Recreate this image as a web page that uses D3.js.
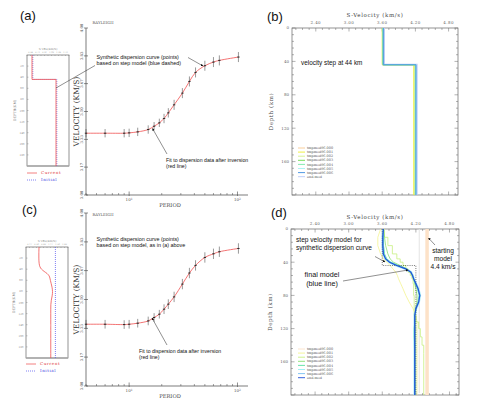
<!DOCTYPE html>
<html><head><meta charset="utf-8">
<script src="https://cdn.jsdelivr.net/npm/d3@7"></script>
<style>body{margin:0;background:#fff}svg{display:block}</style>
</head><body><svg id="c" width="500" height="409"></svg>
<script>
// ---------------- DATA ----------------
const periods = [4, 6, 9, 10, 12, 15, 17, 19, 21, 23, 26, 31, 36, 41, 50, 60, 68, 102];
const velA    = [3.370, 3.370, 3.370, 3.372, 3.378, 3.392, 3.412, 3.432, 3.458, 3.492, 3.540, 3.610, 3.680, 3.734, 3.774, 3.796, 3.806, 3.826];
const velC    = [3.357, 3.357, 3.355, 3.357, 3.363, 3.376, 3.396, 3.415, 3.444, 3.473, 3.515, 3.589, 3.653, 3.697, 3.743, 3.764, 3.776, 3.795];
const errHalf = [0.025, 0.025, 0.025, 0.025, 0.025, 0.025, 0.025, 0.025, 0.028, 0.028, 0.03, 0.03, 0.03, 0.03, 0.03, 0.03, 0.03, 0.03];
const velTicks = [3.00, 3.167, 3.333, 3.50, 3.667, 3.833, 4.00];
const velTickLabelsA = ["3.00","3.17","3.33","3.50","3.67","3.83","4.00"];
const velTickLabelsC = ["3.00","3.17","3.33","3.50","3.67","3.83","4.00"];
const periodMajor = [10, 100];
const periodMinor = [4,5,6,7,8,9,20,30,40,50,60,70,80,90];

// step model (layer top depth, velocity)
const stepDepth = [0, 44, 200];
const stepVel   = [3.60, 4.20, 4.20];
// inverted final model
const finalDepth = [0,10,20,30,36,40,44,48,52,56,60,66,72,80,88,96,104,112,120,130,140,150,200];
const finalVel   = [3.62,3.61,3.61,3.62,3.66,3.73,3.86,4.02,4.11,4.14,4.16,4.20,4.24,4.27,4.25,4.20,4.18,4.18,4.18,4.18,4.18,4.18,4.18];
const startVel = 4.40;

const insetDepthTicks = [20,40,60,80,100,120,140,160,180];
const insetDepthLabels = ["20","40","60","80","100","120","140","160","180"];

// panel (b): iteration models (all step models)
const modelNames = ["tmpmod96.000","tmpmod96.001","tmpmod96.002","tmpmod96.003","tmpmod96.004","tmpmod96.005","tmpmod96.006","end.mod"];
const bUpperVel = [3.61, 3.60, 3.61, 3.62, 3.61, 3.62, 3.62, 3.63];
const bLowerVel = [4.20, 4.17, 4.19, 4.20, 4.20, 4.21, 4.21, 4.22];
const bStepDepth = [44, 44, 44, 44, 44, 44, 44, 44];

// panel (d): iteration models on the finalDepth grid
const dModelVel = [
  [4.40,4.40,4.40,4.40,4.40,4.40,4.40,4.40,4.40,4.40,4.40,4.40,4.40,4.40,4.40,4.40,4.40,4.40,4.40,4.40,4.40,4.40,4.40],
  [3.57,3.52,3.52,3.57,3.62,3.68,3.74,3.79,3.84,3.87,3.89,3.93,3.97,4.02,4.08,4.15,4.20,4.22,4.22,4.22,4.22,4.22,4.22],
  [3.64,3.70,3.78,3.86,3.92,3.97,4.02,4.06,4.10,4.13,4.15,4.16,4.16,4.17,4.17,4.17,4.20,4.25,4.28,4.31,4.34,4.34,4.34],
  [3.62,3.64,3.66,3.70,3.74,3.80,3.92,4.04,4.10,4.14,4.16,4.18,4.20,4.22,4.22,4.20,4.19,4.19,4.19,4.19,4.19,4.19,4.19],
  [3.62,3.62,3.62,3.64,3.68,3.75,3.88,4.03,4.11,4.14,4.16,4.19,4.23,4.26,4.24,4.20,4.18,4.18,4.17,4.17,4.18,4.18,4.18],
  [3.62,3.61,3.61,3.62,3.66,3.73,3.86,4.02,4.11,4.14,4.16,4.20,4.24,4.27,4.25,4.20,4.18,4.18,4.17,4.17,4.17,4.18,4.18],
  [3.62,3.61,3.61,3.62,3.66,3.73,3.86,4.02,4.11,4.14,4.16,4.20,4.24,4.27,4.25,4.20,4.18,4.18,4.18,4.18,4.18,4.18,4.18],
  [3.62,3.61,3.61,3.62,3.66,3.73,3.86,4.02,4.11,4.14,4.16,4.20,4.24,4.27,4.25,4.20,4.18,4.18,4.18,4.18,4.18,4.18,4.18]
];
const sVelTicks = [2.40, 3.00, 3.60, 4.20, 4.80];
const sVelTickLabels = ["2.40","3.00","3.60","4.20","4.80"];
const depthTicks = [0, 40, 80, 120, 160];

// ---------------- STYLE ----------------
const bColors = ["#f8c890","#eeee30","#d4f088","#68d848","#78e8a8","#a8f0f0","#3c8ce0","#b8c8f8"];
const dColors = ["#fde2c8","#f4f490","#c8f080","#88e070","#58e0a0","#98eef0","#78c0f0","#2050d8"];
const SER = "'DejaVu Serif','Liberation Serif',serif";
const SANS = "'Liberation Sans','DejaVu Sans',Arial,sans-serif";

const svg = d3.select("#c");
svg.append("rect").attr("width",500).attr("height",409).attr("fill","#fff");

[["(a)",20,20],["(b)",267,21],["(c)",22,214],["(d)",271,217]].forEach(([t,x,y])=>{
  svg.append("text").attr("x",x).attr("y",y).attr("font-family",SANS).attr("font-size",13).attr("fill","#111").text(t);
});

// ---------------- dispersion panels ----------------
function dispersionPanel(yTop, yBot, vel, tickLabels, titleY, periodLabelY) {
  const g = svg.append("g");
  const x = d3.scaleLog().domain([4,125]).range([86,248]);
  const y = d3.scaleLinear().domain([3,4]).range([yBot,yTop]);
  g.append("line").attr("x1",86).attr("x2",86).attr("y1",yTop).attr("y2",yBot).attr("stroke","#444").attr("stroke-width",0.7);
  g.append("line").attr("x1",86).attr("x2",248).attr("y1",yBot).attr("y2",yBot).attr("stroke","#444").attr("stroke-width",0.7);
  velTicks.forEach((v,i)=>{
    g.append("line").attr("x1",84).attr("x2",88).attr("y1",y(v)).attr("y2",y(v)).attr("stroke","#444").attr("stroke-width",0.6);
    g.append("text").attr("transform",`translate(82.5,${y(v)}) rotate(-90)`).attr("text-anchor","middle")
      .attr("font-family",SER).attr("font-size",3.8).attr("fill","#555").text(tickLabels[i]);
  });
  periodMinor.forEach(p=>{
    g.append("line").attr("x1",x(p)).attr("x2",x(p)).attr("y1",yBot).attr("y2",yBot-2).attr("stroke","#444").attr("stroke-width",0.5);
  });
  periodMajor.forEach((p,i)=>{
    g.append("line").attr("x1",x(p)).attr("x2",x(p)).attr("y1",yBot+1).attr("y2",yBot-3.5).attr("stroke","#444").attr("stroke-width",0.6);
    const t = g.append("text").attr("x",x(p)).attr("y",yBot+6).attr("text-anchor","middle").attr("font-family",SER).attr("font-size",4).attr("fill","#555");
    t.append("tspan").text("10");
    t.append("tspan").attr("dy",-1.5).attr("font-size",3).text(i===0?"1":"2");
  });
  g.append("text").attr("x",170).attr("y",periodLabelY).attr("text-anchor","middle").attr("font-family",SER).attr("font-size",5.2).attr("fill","#444").text("PERIOD");
  g.append("text").attr("x",103).attr("y",titleY).attr("text-anchor","middle").attr("font-family",SER).attr("font-size",3.8).attr("fill","#555").text("RAYLEIGH");
  g.append("text").attr("transform",`translate(79,${(yTop+yBot)/2}) rotate(-90)`).attr("text-anchor","middle")
    .attr("font-family",SER).attr("font-size",7.5).attr("fill","#333").text("VELOCITY (KM/S)");
  const line = d3.line().x((d,i)=>x(periods[i])).y(d=>y(d)).curve(d3.curveCatmullRom.alpha(0.5));
  g.append("path").attr("d",line(vel)).attr("fill","none").attr("stroke","#f05050").attr("stroke-width",0.8);
  vel.forEach((v,i)=>{
    g.append("line").attr("x1",x(periods[i])).attr("x2",x(periods[i])).attr("y1",y(v-errHalf[i])).attr("y2",y(v+errHalf[i]))
      .attr("stroke","#333").attr("stroke-width",0.5);
    g.append("line").attr("x1",x(periods[i])-1.2).attr("x2",x(periods[i])+1.2).attr("y1",y(v)).attr("y2",y(v))
      .attr("stroke","#111").attr("stroke-width",0.8);
  });
  return {x,y};
}
dispersionPanel(28, 195, velA, velTickLabelsA, 24, 206.5);
dispersionPanel(213, 386, velC, velTickLabelsC, 216, 398);

// ---------------- insets ----------------
function inset(x0,x1,y0,y1,vDomain,legendY){
  const g = svg.append("g");
  const x = d3.scaleLinear().domain(vDomain).range([x0,x1]);
  const y = d3.scaleLinear().domain([0,200]).range([y0,y1]);
  g.append("rect").attr("x",x0).attr("y",y0).attr("width",x1-x0).attr("height",y1-y0).attr("fill","none").attr("stroke","#666").attr("stroke-width",0.7);
  g.append("line").attr("x1",x0).attr("x2",x1).attr("y1",y1).attr("y2",y1).attr("stroke","#aaa").attr("stroke-width",1.6);
  insetDepthTicks.forEach((d,i)=>{
    g.append("line").attr("x1",x0).attr("x2",x0+1.5).attr("y1",y(d)).attr("y2",y(d)).attr("stroke","#777").attr("stroke-width",0.4);
    g.append("text").attr("x",x0-5).attr("y",y(d)+1).attr("text-anchor","middle").attr("font-family",SER).attr("font-size",2.6).attr("fill","#888").text(insetDepthLabels[i]);
  });
  const vt = d3.range(6).map(i=>vDomain[0]+(vDomain[1]-vDomain[0])*(i+0.5)/6);
  d3.range(13).forEach(i=>{
    const xx = x0 + (x1-x0)*i/12;
    g.append("line").attr("x1",xx).attr("x2",xx).attr("y1",y0).attr("y2",y0+1).attr("stroke","#777").attr("stroke-width",0.4);
  });
  vt.forEach(v=>{
    g.append("text").attr("x",x(v)).attr("y",y0-2).attr("text-anchor","middle").attr("font-family",SER).attr("font-size",2.2).attr("fill","#999").text(v.toFixed(2));
  });
  g.append("text").attr("x",(x0+x1)/2).attr("y",y0-5.5).attr("text-anchor","middle").attr("font-family",SER).attr("font-size",2.8).attr("fill","#888").text("S VEL(KM/S)");
  g.append("text").attr("transform",`translate(${x0-11},${(y0+y1)/2}) rotate(-90)`).attr("text-anchor","middle").attr("font-family",SER).attr("font-size",3.4).attr("fill","#777").text("DEPTH(KM)");
  g.append("line").attr("x1",x0).attr("x2",x0+10).attr("y1",legendY).attr("y2",legendY).attr("stroke","#f06060").attr("stroke-width",0.8);
  g.append("text").attr("x",x0+14).attr("y",legendY+1.3).attr("font-family",SER).attr("font-size",4).attr("fill","#e04040").attr("letter-spacing",0.6).text("Current");
  g.append("line").attr("x1",x0).attr("x2",x0+10).attr("y1",legendY+7).attr("y2",legendY+7).attr("stroke","#6060f0").attr("stroke-width",0.8).attr("stroke-dasharray","1,1");
  g.append("text").attr("x",x0+14).attr("y",legendY+8.3).attr("font-family",SER).attr("font-size",4).attr("fill","#4040e0").attr("letter-spacing",0.6).text("Initial");
  return {x,y,g};
}
// layered model: velocity constant down to next layer top (vertical first, then horizontal)
const stepLine = (sx,sy)=>d3.line().x(d=>sx(d)).y((d,i)=>sy(stepDepth[i])).curve(d3.curveStepBefore);

const ia = inset(27,69,55,166,[3.475,4.525],173);
ia.g.append("path").attr("d",stepLine(v=>ia.x(v)+0.8,ia.y)(stepVel)).attr("fill","none").attr("stroke","#7070f0").attr("stroke-width",0.8).attr("stroke-dasharray","1,1");
ia.g.append("path").attr("d",stepLine(ia.x,ia.y)(stepVel)).attr("fill","none").attr("stroke","#f05050").attr("stroke-width",0.8);

const ic = inset(26,68,247,358,[3.0,5.0],364);
ic.g.append("line").attr("x1",ic.x(startVel)).attr("x2",ic.x(startVel)).attr("y1",247).attr("y2",358).attr("stroke","#6060f0").attr("stroke-width",0.8).attr("stroke-dasharray","1,1");
ic.g.append("path").attr("d",d3.line().x(d=>ic.x(d)).y((d,i)=>ic.y(finalDepth[i])).curve(d3.curveBasis)(finalVel)).attr("fill","none").attr("stroke","#f05050").attr("stroke-width",0.8);

// ---------------- velocity-depth panels ----------------
function vdPanel(x0,x1,y0,y1,titleY){
  const g = svg.append("g");
  const x = d3.scaleLinear().domain([1.97,4.97]).range([x0,x1]);
  const y = d3.scaleLinear().domain([0,200]).range([y0,y1]);
  g.append("rect").attr("x",x0).attr("y",y0).attr("width",x1-x0).attr("height",y1-y0).attr("fill","none").attr("stroke","#666").attr("stroke-width",0.7);
  const minorV = d3.range(2.04, 4.97, 0.12);
  minorV.forEach(v=>{
    const major = sVelTicks.some(t=>Math.abs(t-v)<0.01);
    const L = major?3.5:2;
    g.append("line").attr("x1",x(v)).attr("x2",x(v)).attr("y1",y0).attr("y2",y0+L).attr("stroke","#666").attr("stroke-width",0.5);
    g.append("line").attr("x1",x(v)).attr("x2",x(v)).attr("y1",y1).attr("y2",y1-L).attr("stroke","#666").attr("stroke-width",0.5);
  });
  sVelTicks.forEach((v,i)=>{
    g.append("text").attr("x",x(v)).attr("y",y0-4).attr("text-anchor","middle").attr("font-family",SER).attr("font-size",4).attr("fill","#666").attr("letter-spacing",0.4).text(sVelTickLabels[i]);
  });
  d3.range(0,201,8).forEach(d=>{
    const major = d%40===0;
    const L = major?3.5:2;
    g.append("line").attr("x1",x0).attr("x2",x0+L).attr("y1",y(d)).attr("y2",y(d)).attr("stroke","#666").attr("stroke-width",0.5);
    g.append("line").attr("x1",x1).attr("x2",x1-L).attr("y1",y(d)).attr("y2",y(d)).attr("stroke","#666").attr("stroke-width",0.5);
  });
  depthTicks.forEach(d=>{
    g.append("text").attr("x",x0-3).attr("y",y(d)+1.4).attr("text-anchor","end").attr("font-family",SER).attr("font-size",4).attr("fill","#666").text(d);
  });
  g.append("text").attr("x",(x0+x1)/2).attr("y",titleY).attr("text-anchor","middle").attr("font-family",SER).attr("font-size",5.5).attr("fill","#444").attr("letter-spacing",0.6).text("S-Velocity (km/s)");
  g.append("text").attr("transform",`translate(${x0-19},${(y0+y1)/2}) rotate(-90)`).attr("text-anchor","middle").attr("font-family",SER).attr("font-size",5.5).attr("fill","#444").attr("letter-spacing",0.6).text("Depth (km)");
  return {x,y,g};
}

// panel (b)
const pb = vdPanel(292,458,28,195,16.5);
const bLine = d3.line().x(d=>pb.x(d[0])).y(d=>pb.y(d[1]));
const bOrder = [7,0,1,2,3,4,5,6];
bOrder.forEach(k=>{
  const pts = [[bUpperVel[k],0],[bUpperVel[k],bStepDepth[k]],[bLowerVel[k],bStepDepth[k]],[bLowerVel[k],200]];
  pb.g.append("path").attr("d",bLine(pts)).attr("fill","none").attr("stroke",bColors[k]).attr("stroke-width",k===7?2.2:0.9);
});
modelNames.forEach((n,k)=>{
  const ly = 148 + k*4.1;
  pb.g.append("line").attr("x1",298).attr("x2",305).attr("y1",ly).attr("y2",ly).attr("stroke",bColors[k]).attr("stroke-width",0.9);
  pb.g.append("text").attr("x",307).attr("y",ly+1.1).attr("font-family",SER).attr("font-size",3.4).attr("fill","#555").text(n);
});
svg.append("text").attr("x",301).attr("y",65).attr("font-family",SANS).attr("font-size",6.4).attr("fill","#111").text("velocity step at 44 km");

// panel (d)
const pd = vdPanel(291,459,229,395,219);
const dLine = d3.line().x(d=>pd.x(d)).y((d,i)=>pd.y(finalDepth[i]));
pd.g.append("path").attr("d",dLine(dModelVel[0])).attr("fill","none").attr("stroke",dColors[0]).attr("stroke-width",3.5);
pd.g.append("line").attr("x1",pd.x(4.26)).attr("x2",pd.x(4.26)).attr("y1",229).attr("y2",393).attr("stroke","#e4e4e4").attr("stroke-width",1);
pd.g.append("path").attr("d",dLine(dModelVel[6])).attr("fill","none").attr("stroke","#a8ecf4").attr("stroke-width",2.6);
[1,2,3,4,5,6].forEach(k=>{
  pd.g.append("path").attr("d",d3.line().x(d=>pd.x(d)).y((d,i)=>pd.y(finalDepth[i])).curve(k===2?d3.curveStepBefore:d3.curveLinear)(dModelVel[k]))
    .attr("fill","none").attr("stroke",dColors[k]).attr("stroke-width",0.8);
});
pd.g.append("path").attr("d",stepLine(pd.x,pd.y)(stepVel))
  .attr("fill","none").attr("stroke","#222").attr("stroke-width",0.6).attr("stroke-dasharray","1,1.2");
pd.g.append("path").attr("d",dLine(finalVel)).attr("fill","none").attr("stroke",dColors[7]).attr("stroke-width",1.2);
modelNames.forEach((n,k)=>{
  const ly = 349 + k*4.1;
  pd.g.append("line").attr("x1",298).attr("x2",305).attr("y1",ly).attr("y2",ly).attr("stroke",dColors[k]).attr("stroke-width",0.9);
  pd.g.append("text").attr("x",307).attr("y",ly+1.1).attr("font-family",SER).attr("font-size",3.4).attr("fill","#555").text(n);
});

// ---------------- annotations ----------------
const defs = svg.append("defs");
defs.append("marker").attr("id","ah").attr("viewBox","0 0 10 10").attr("refX",9).attr("refY",5)
  .attr("markerWidth",5).attr("markerHeight",5).attr("orient","auto")
  .append("path").attr("d","M0,0 L10,5 L0,10 Z").attr("fill","#111");
function arrow(x1,y1,x2,y2,head){
  const l = svg.append("line").attr("x1",x1).attr("y1",y1).attr("x2",x2).attr("y2",y2).attr("stroke","#222").attr("stroke-width",0.5);
  if(head) l.attr("marker-end","url(#ah)");
}
function label(x,y,lines,size,anchor){
  lines.forEach((t,i)=>svg.append("text").attr("x",x).attr("y",y+i*size*1.2).attr("text-anchor",anchor||"start")
    .attr("font-family",SANS).attr("font-size",size).attr("fill","#111").text(t));
}
label(96.5,59,["Synthetic dispersion curve (points)","based on step model (blue dashed)"],5.4);
arrow(95,65.5,56,88,false);
arrow(188,57.5,203,66,true);
label(166,162,["Fit to dispersion data after inversion","(red line)"],5.2);
arrow(167,154,152.5,128.5,true);

label(96.5,241,["Synthetic dispersion curve (points)","based on step model, as in (a) above"],5.4);
label(139,353,["Fit to dispersion data after inversion","(red line)"],5.2);
arrow(167,345,152,318,true);

label(296,242,["step velocity model for","synthetic dispersion curve"],6.6);
arrow(375,256.5,385,262,true);
label(322,277,["final model","(blue line)"],7.2,"middle");
arrow(343,281,408,270,true);
label(443,253,["starting","model","4.4 km/s"],6.6,"middle");
arrow(435,245,428.5,238,true);
</script></body></html>
